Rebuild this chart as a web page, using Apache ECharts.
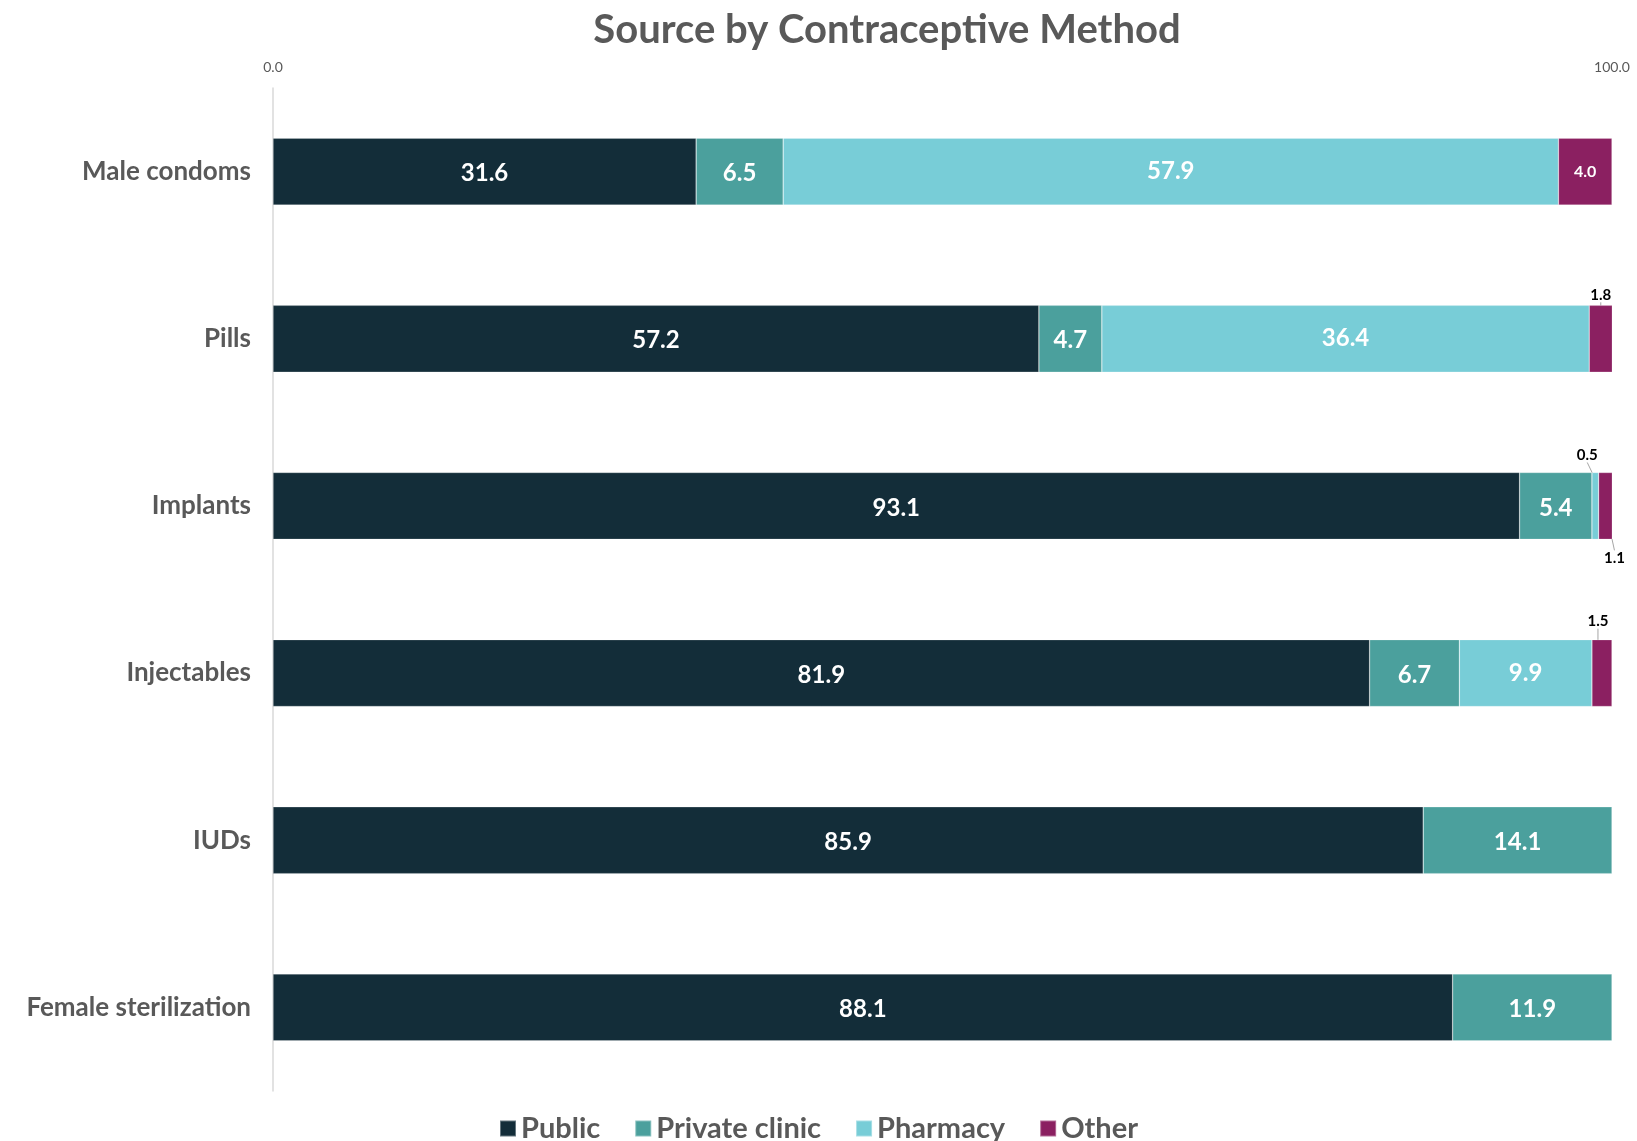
<!DOCTYPE html>
<html>
<head>
<meta charset="utf-8">
<title>Source by Contraceptive Method</title>
<script src="https://cdn.jsdelivr.net/npm/echarts@6/dist/echarts.min.js"></script>
<style>
  html, body { margin: 0; padding: 0; background: #ffffff; }
  #chart { width: 1637px; height: 1141px; }
</style>
</head>
<body>
<div id="chart"></div>
<script>
// Methods, top to bottom
const methods = ['Male condoms', 'Pills', 'Implants', 'Injectables', 'IUDs', 'Female sterilization'];

// Share of users (%) by source
const publicSource   = [31.6, 57.2, 93.1, 81.9, 85.9, 88.1];
const privateClinic  = [6.5, 4.7, 5.4, 6.7, 14.1, 11.9];
const pharmacy       = [57.9, 36.4, 0.5, 9.9, null, null];
const otherSource    = [4.0, 1.8, 1.1, 1.5, null, null];

const axisTicks = [0, 100];

const FONT = 'Lato, "Open Sans", sans-serif';
const GREY = '#595959';
const COLORS = ['#132D39', '#4BA09D', '#78CDD7', '#8B2061'];

// Slices too narrow to carry their own value get an outside label with a guide line.
// Key: dataIndex -> {position, dx, dy}
const outsidePharmacy = { 2: { position: 'top', dx: -8, dy: -7 } };
const outsideOther = {
  1: { position: 'top', dx: 0, dy: 0 },
  2: { position: 'bottom', dx: 9, dy: 8 },
  3: { position: 'top', dx: -4, dy: -8 }
};

const insideLabel = {
  show: true,
  position: 'inside',
  color: '#ffffff',
  fontFamily: FONT,
  fontWeight: 'bold',
  fontSize: 24,
  offset: [0, 2],
  formatter: p => p.value == null ? '' : Number(p.value).toFixed(1)
};

function buildData(values, outside, insideSize) {
  return values.map((v, i) => {
    if (v == null) return null;
    const o = outside && outside[i];
    if (o) {
      return {
        value: v,
        label: {
          position: o.position,
          distance: 3,
          offset: [0, 0],
          color: '#000000',
          fontSize: 15,
          fontWeight: 'bold'
        },
        labelLine: { show: true, lineStyle: { color: '#A6A6A6', width: 1 } }
      };
    }
    if (insideSize) return { value: v, label: { fontSize: insideSize, offset: [0, 0] } };
    return v;
  });
}

function layoutFor(outside) {
  return function (params) {
    const o = outside && outside[params.dataIndex];
    if (!o) return {};
    return { dx: o.dx, dy: o.dy };
  };
}

function makeSeries(name, values, colorIdx, outside, insideSize) {
  return {
    name: name,
    type: 'bar',
    stack: 'total',
    barWidth: '40%',
    itemStyle: { color: COLORS[colorIdx], borderColor: 'rgba(255,255,255,0.35)', borderWidth: 0.6 },
    label: insideLabel,
    labelLine: { show: false },
    labelLayout: outside ? layoutFor(outside) : undefined,
    data: buildData(values, outside, insideSize)
  };
}

const chart = echarts.init(document.getElementById('chart'), null, { renderer: 'canvas' });

chart.setOption({
  animation: false,
  backgroundColor: '#ffffff',
  textStyle: { fontFamily: FONT },
  title: {
    text: 'Source by Contraceptive Method',
    left: 882,
    top: 5,
    textAlign: 'center',
    textStyle: { color: GREY, fontFamily: FONT, fontWeight: 'bold', fontSize: 40 }
  },
  legend: {
    left: 'center',
    top: 1109,
    itemWidth: 16,
    itemHeight: 16,
    itemGap: 34,
    icon: 'rect',
    textStyle: { color: GREY, fontFamily: FONT, fontWeight: 'bold', fontSize: 29 },
    data: ['Public', 'Private clinic', 'Pharmacy', 'Other']
  },
  grid: { left: 273, right: 25, top: 88, bottom: 50, containLabel: false },
  xAxis: {
    type: 'value',
    position: 'top',
    min: axisTicks[0],
    max: axisTicks[axisTicks.length - 1],
    interval: axisTicks[1] - axisTicks[0],
    axisLine: { show: false },
    axisTick: { show: false },
    splitLine: { show: false },
    axisLabel: {
      color: GREY,
      fontFamily: FONT,
      fontSize: 14,
      margin: 14,
      formatter: v => v.toFixed(1)
    }
  },
  yAxis: {
    type: 'category',
    inverse: true,
    data: methods,
    axisLine: { show: true, lineStyle: { color: '#D9D9D9', width: 1.5 } },
    axisTick: { show: false },
    axisLabel: {
      color: GREY,
      fontFamily: FONT,
      fontWeight: 'bold',
      fontSize: 26,
      margin: 22
    }
  },
  series: [
    makeSeries('Public', publicSource, 0),
    makeSeries('Private clinic', privateClinic, 1),
    makeSeries('Pharmacy', pharmacy, 2, outsidePharmacy),
    makeSeries('Other', otherSource, 3, outsideOther, 16)
  ]
});
</script>
</body>
</html>
